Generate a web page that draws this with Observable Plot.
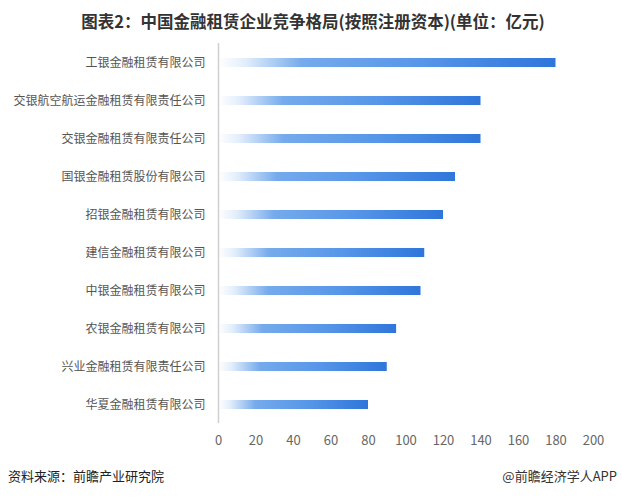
<!DOCTYPE html>
<html>
<head>
<meta charset="utf-8">
<script src="https://cdn.jsdelivr.net/npm/d3@7"></script>
<script src="https://cdn.jsdelivr.net/npm/@observablehq/plot@0.6"></script>
<style>
  html, body { margin: 0; padding: 0; background: #fff; }
  body { width: 622px; height: 498px; position: relative; overflow: hidden;
         font-family: "Noto Sans CJK SC", "Noto Sans", sans-serif; }
  #title { position: absolute; left: 0; top: 9px; width: 626px; text-align: center;
           font-size: 16.5px; font-weight: bold; color: #333; }
  #chart { position: absolute; left: 0; top: 40px; }
  #src { position: absolute; left: 8px; top: 466px; font-size: 13px; color: #222; }
  #brand { position: absolute; right: 5px; top: 466px; font-size: 13px; color: #333; }
</style>
</head>
<body>
<div id="title">图表2：中国金融租赁企业竞争格局(按照注册资本)(单位：亿元)</div>
<div id="chart"></div>
<div id="src">资料来源：前瞻产业研究院</div>
<div id="brand">@前瞻经济学人APP</div>
<script>
const companies = [
  "工银金融租赁有限公司",
  "交银航空航运金融租赁有限责任公司",
  "交银金融租赁有限责任公司",
  "国银金融租赁股份有限公司",
  "招银金融租赁有限公司",
  "建信金融租赁有限公司",
  "中银金融租赁有限公司",
  "农银金融租赁有限公司",
  "兴业金融租赁有限责任公司",
  "华夏金融租赁有限公司"
];
const capital = [180, 140, 140, 126.4, 120, 110, 108, 95, 90, 80];
const xTicks = [0, 20, 40, 60, 80, 100, 120, 140, 160, 180, 200];

const data = companies.map((c, i) => ({company: c, value: capital[i]}));

const chart = Plot.plot({
  width: 622,
  height: 420,
  marginLeft: 218,
  marginRight: 29,
  marginTop: 3,
  marginBottom: 37,
  style: {fontFamily: '"Noto Sans CJK SC", "Noto Sans", sans-serif', background: "transparent"},
  x: {domain: [0, 200], ticks: xTicks, label: null},
  y: {domain: companies, paddingInner: 0.764, paddingOuter: 0.382, label: null},
  marks: [
    Plot.barX(data, {x: "value", y: "company", fill: "url(#barGrad)"}),
    Plot.ruleX([0], {stroke: "#d0d0d0", strokeWidth: 1.5}),
    Plot.axisX({ticks: xTicks, tickSize: 0, tickPadding: 12, fontSize: 13, fill: "#666", label: null}),
    Plot.axisY({tickSize: 0, tickPadding: 13, fontSize: 12, fill: "#555", label: null})
  ]
});

const ns = "http://www.w3.org/2000/svg";
const defs = document.createElementNS(ns, "defs");
const grad = document.createElementNS(ns, "linearGradient");
grad.setAttribute("id", "barGrad");
grad.setAttribute("x1", "0"); grad.setAttribute("y1", "0");
grad.setAttribute("x2", "1"); grad.setAttribute("y2", "0");
[["0", "#ffffff"], ["0.08", "#e3eefb"], ["0.25", "#75aaec"], ["0.6", "#5796e8"], ["1", "#2f76db"]].forEach(([o, c]) => {
  const s = document.createElementNS(ns, "stop");
  s.setAttribute("offset", o);
  s.setAttribute("stop-color", c);
  grad.appendChild(s);
});
defs.appendChild(grad);
chart.insertBefore(defs, chart.firstChild);

document.getElementById("chart").appendChild(chart);
</script>
</body>
</html>
